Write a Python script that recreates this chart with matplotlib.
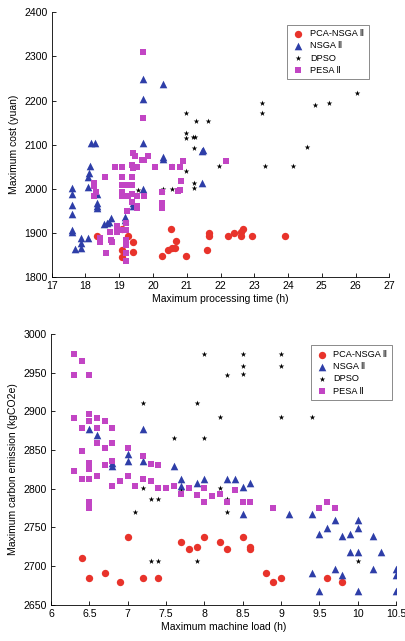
import numpy as np
import matplotlib
matplotlib.use('Agg')
import matplotlib.pyplot as plt

plt.rcParams['font.family'] = ['Liberation Sans', 'DejaVu Sans']

# Données - figure du haut (temps de traitement / coût)
pca_t = [18.33, 19.07, 19.07, 19.07, 19.27, 19.42, 19.42, 20.28, 20.52, 20.45, 20.55, 20.65,
         20.67, 20.97, 21.61, 21.66, 21.66, 22.21, 22.41, 22.6, 22.62, 22.67, 22.92, 23.91]
pca_c = [1894, 1909, 1862, 1847, 1894, 1879, 1858, 1848, 1909, 1862, 1866, 1866,
         1883, 1848, 1862, 1901, 1894, 1894, 1900, 1894, 1903, 1909, 1894, 1894]

nsga_t = [17.59, 17.59, 17.59, 17.59, 17.59, 17.59, 17.69, 17.87, 17.87, 17.87, 18.06,
          18.13, 18.11, 18.08, 18.06, 18.16, 18.28, 18.33, 18.33, 18.33, 18.33,
          18.56, 18.65, 18.7, 18.76, 19.17, 19.17, 19.4, 19.4,
          19.71, 19.71, 19.71, 19.71, 20.31, 20.31, 20.31, 21.45, 21.49, 21.46]
nsga_c = [2002, 1989, 1964, 1944, 1906, 1902, 1864, 1888, 1877, 1866, 1889,
          2052, 2036, 2028, 2004, 2105, 2105, 1989, 1969, 1962, 1958,
          1921, 1922, 1926, 1934, 1937, 1930, 1968, 1962,
          2248, 2204, 2105, 2000, 2238, 2073, 2067, 2087, 2088, 2013]

dpso_t = [19.57, 20.3, 20.57, 20.57, 20.97, 20.97, 20.97, 20.97, 21.21, 21.19, 21.25, 21.21,
          21.21, 21.26, 21.62, 21.96, 23.22, 23.22, 23.32, 24.16, 24.55, 24.8, 25.21, 26.05]
dpso_c = [1998, 1999, 1999, 2053, 2171, 2126, 2115, 2041, 2092, 2118, 2118, 2013,
          2003, 2155, 2155, 2053, 2194, 2171, 2053, 2053, 2096, 2190, 2194, 2217]

pesa_t = [19.71, 19.71, 19.42, 19.48, 19.66, 19.73, 19.86, 20.06, 18.87, 19.07, 19.37, 19.4,
          19.52, 18.58, 19.07, 19.37, 18.26, 18.26, 18.31, 18.26, 19.07, 19.19, 19.37, 19.07,
          19.07, 19.25, 19.37, 19.37, 19.52, 19.52, 19.52, 19.24, 19.73, 20.26, 20.26, 20.26,
          18.43, 18.43, 18.73, 18.76, 18.92, 19.02, 18.92, 18.6, 19.2, 19.2, 19.2, 19.2,
          19.2, 19.2, 18.8, 20.9, 20.55, 20.8, 20.82, 20.8, 20.75, 22.16]
pesa_c = [2309, 2161, 2081, 2075, 2066, 2066, 2075, 2049, 2049, 2049, 2054, 2048,
          2049, 2028, 2028, 2028, 2013, 2006, 1994, 1983, 2008, 2008, 2008, 1994,
          1983, 1983, 1989, 1971, 1983, 1956, 1962, 1949, 1983, 1994, 1968, 1956,
          1888, 1881, 1903, 1885, 1903, 1907, 1917, 1856, 1922, 1907, 1884, 1873,
          1854, 1837, 1880, 2064, 2049, 2050, 2017, 1998, 1996, 2064]

# Données - figure du bas (charge machine / émission carbone)
pca_l = [6.4, 6.5, 6.7, 6.9, 7.0, 7.2, 7.4, 7.7, 7.8, 7.9, 8.0, 8.2, 8.3,
         8.5, 8.6, 8.6, 8.8, 8.9, 9.0, 9.6, 9.8]
pca_e = [2710, 2685, 2691, 2679, 2738, 2685, 2685, 2731, 2722, 2725, 2738, 2731, 2722,
         2738, 2725, 2722, 2691, 2680, 2685, 2685, 2679]

nsga_l = [6.5, 6.6, 6.8, 6.8, 7.0, 7.0, 7.2, 7.2, 7.6, 7.7, 7.7, 7.9, 8.0, 8.3,
          8.4, 8.5, 8.6, 8.5, 9.1, 9.4, 9.5, 9.6, 9.7, 9.8, 9.9, 10.0, 10.0, 10.2,
          9.9, 10.0, 10.3, 9.4, 9.7, 9.8, 10.2, 10.5, 10.5, 9.5, 10.0, 10.5]
nsga_e = [2877, 2869, 2829, 2833, 2845, 2836, 2877, 2836, 2829, 2812, 2803, 2807, 2812, 2812,
          2812, 2802, 2807, 2767, 2767, 2767, 2742, 2749, 2760, 2739, 2742, 2760, 2749, 2739,
          2718, 2718, 2718, 2691, 2696, 2688, 2696, 2696, 2688, 2668, 2668, 2668]

dpso_l = [8.0, 8.3, 7.2, 7.9, 8.2, 7.6, 8.0, 7.2, 7.3, 7.4, 7.1, 7.7, 8.2, 8.3, 8.3,
          7.3, 7.4, 7.9, 8.5, 8.5, 8.5, 9.0, 9.0, 9.0, 9.4, 10.0]
dpso_e = [2974, 2947, 2911, 2911, 2893, 2866, 2866, 2801, 2787, 2787, 2770, 2797, 2801, 2787, 2770,
          2707, 2707, 2707, 2974, 2959, 2948, 2974, 2959, 2893, 2893, 2707]

pesa_l = [6.3, 6.4, 6.3, 6.5, 6.3, 6.5, 6.5, 6.6, 6.7, 6.4, 6.6, 6.8, 6.6, 6.7, 6.8, 6.4,
          7.0, 6.3, 6.4, 6.5, 6.5, 6.5, 6.5, 6.6, 6.7, 6.8, 6.8, 6.9, 7.0, 7.1, 7.2, 7.2,
          7.3, 7.3, 7.4, 7.4, 7.5, 7.6, 7.7, 7.8, 7.9, 8.0, 8.0, 8.1, 8.2, 8.3, 6.5, 6.5,
          8.4, 8.5, 8.6, 8.9, 9.5, 9.6, 9.7]
pesa_e = [2974, 2965, 2947, 2947, 2892, 2897, 2888, 2892, 2888, 2878, 2878, 2878, 2859, 2852, 2859, 2849,
          2852, 2823, 2813, 2813, 2833, 2829, 2825, 2817, 2831, 2836, 2804, 2810, 2817, 2804, 2842, 2813,
          2832, 2810, 2831, 2801, 2801, 2804, 2793, 2801, 2792, 2801, 2783, 2790, 2793, 2783, 2783, 2775,
          2798, 2783, 2783, 2775, 2775, 2783, 2775]

labels = ['PCA-NSGA\u2009\u2161', 'NSGA\u2009\u2161', 'DPSO', 'PESA\u2009\u2161']
c_red = '#e8332b'
c_blue = '#2e3ea8'
c_mag = '#c245c4'

fig = plt.figure(figsize=(4.05, 6.41), dpi=100)


def trace(ax, xs, ys):
    ax.scatter(xs[0], ys[0], s=28, c=c_red, marker='o', linewidths=0, label=labels[0])
    ax.scatter(xs[1], ys[1], s=30, c=c_blue, marker='^', linewidths=0, label=labels[1])
    ax.scatter(xs[2], ys[2], s=18, c='black', marker='*', linewidths=0, label=labels[2])
    ax.scatter(xs[3], ys[3], s=18, c=c_mag, marker='s', linewidths=0, label=labels[3])
    ax.spines['top'].set_visible(False)
    ax.spines['right'].set_visible(False)
    ax.spines['left'].set_linewidth(0.6)
    ax.spines['bottom'].set_linewidth(0.6)
    ax.tick_params(direction='in', length=3, width=0.6, labelsize=7.6, pad=3)


# Premier graphe
ax1 = fig.add_axes([0.1277, 0.5674, 0.8336, 0.4134])
trace(ax1, [pca_t, nsga_t, dpso_t, pesa_t], [pca_c, nsga_c, dpso_c, pesa_c])
ax1.set_xlim(17, 27)
ax1.set_ylim(1800, 2400)
ax1.set_xticks(np.arange(17, 28, 1))
ax1.set_yticks(np.arange(1800, 2401, 100))
ax1.set_xlabel('Maximum processing time (h)', fontsize=7.5, labelpad=2)
ax1.set_ylabel('Maximum cost (yuan)', fontsize=7.5, labelpad=4)
leg1 = ax1.legend(loc='upper right', bbox_to_anchor=(0.952, 0.971), fontsize=6.6,
                  fancybox=False, edgecolor='#555555', handletextpad=0.6,
                  borderpad=0.5, labelspacing=0.35, handlelength=1.4, scatterpoints=1)
leg1.get_frame().set_linewidth(0.6)

# Deuxième graphe
ax2 = fig.add_axes([0.126, 0.0566, 0.852, 0.4223])
trace(ax2, [pca_l, nsga_l, dpso_l, pesa_l], [pca_e, nsga_e, dpso_e, pesa_e])
ax2.set_xlim(6, 10.5)
ax2.set_ylim(2650, 3000)
ax2.set_xticks(np.arange(6, 10.51, 0.5))
ax2.set_xticklabels(['6', '6.5', '7', '7.5', '8', '8.5', '9', '9.5', '10', '10.5'])
ax2.set_yticks(np.arange(2650, 3001, 50))
ax2.set_xlabel('Maximum machine load (h)', fontsize=7.5, labelpad=2)
ax2.set_ylabel('Maximum carbon emission (kgCO2e)', fontsize=7.5, labelpad=4)
leg2 = ax2.legend(loc='upper right', bbox_to_anchor=(1.002, 0.975), fontsize=6.6,
                  fancybox=False, edgecolor='#555555', handletextpad=0.6,
                  borderpad=0.5, labelspacing=0.35, handlelength=1.4, scatterpoints=1)
leg2.get_frame().set_linewidth(0.6)

plt.savefig('out.png', dpi=100)
